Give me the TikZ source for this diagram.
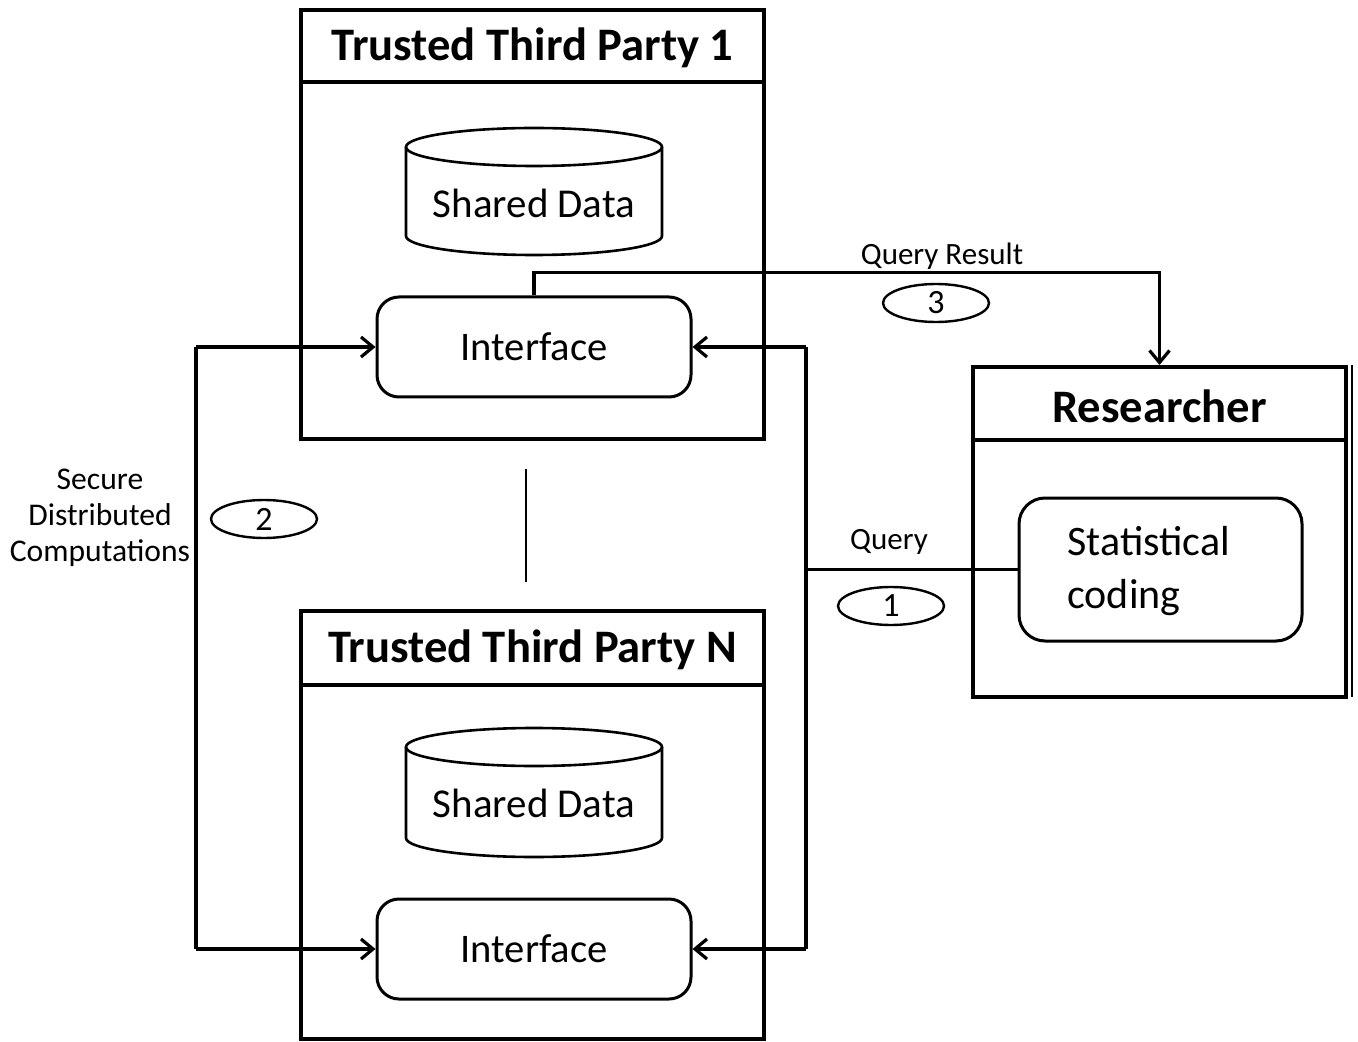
\documentclass[tikz,border=0pt]{standalone}
\usepackage{fontspec}
\setmainfont{Carlito}
\usetikzlibrary{arrows.meta,shapes.geometric}
\begin{document}
\begin{tikzpicture}[x=0.5pt,y=-0.5pt,
  bigbox/.style={draw,line width=2pt,minimum width=231.5pt,inner sep=0pt},
  titletext/.style={font=\fontsize{23.3}{27}\selectfont\bfseries,inner sep=0pt},
  iface/.style={draw,line width=1.5pt,rounded corners=11pt,minimum width=157pt,minimum height=50pt,font=\fontsize{20.3}{24}\selectfont,inner sep=0pt},
  cyltext/.style={font=\fontsize{20.5}{24}\selectfont,inner sep=0pt},
  cylline/.style={line width=1.3pt},
  conn/.style={line width=1.6pt},
  tip/.style={-{Straight Barb[length=6pt,width=10pt]}},
  lbl/.style={font=\fontsize{15.5}{18}\selectfont,inner sep=0pt,align=center},
  step num/.style={draw,ellipse,line width=1.2pt,minimum width=53pt,minimum height=19pt,inner sep=0pt,font=\fontsize{17}{20}\selectfont}
]
\useasboundingbox (0,0) rectangle (1358,1042);

% Trusted Third Party 1
\node[bigbox,minimum height=214.5pt] (ttp1) at (532.5,224.5) {};
\draw[line width=2pt] (301,82) -- (764,82);
\node[titletext] (t1) at (532.5,48) {Trusted Third Party 1};
\draw[cylline,fill=white] (406,147) -- (406,236) arc[start angle=180,end angle=360,x radius=64pt,y radius=9.5pt] -- (662,147);
\draw[cylline] (534,147) ellipse[x radius=64pt,y radius=9.5pt];
\node[cyltext] (db1) at (534,203) {Shared Data};
\node[iface] (if1) at (534,347) {Interface};

% Trusted Third Party N
\node[bigbox,minimum height=214pt] (ttpN) at (532.5,825) {};
\draw[line width=2pt] (301,685) -- (764,685);
\node[titletext] (tN) at (532.5,650) {Trusted Third Party N};
\draw[cylline,fill=white] (406,747) -- (406,838) arc[start angle=180,end angle=360,x radius=64pt,y radius=9.5pt] -- (662,747);
\draw[cylline] (534,747) ellipse[x radius=64pt,y radius=9.5pt];
\node[cyltext] (dbN) at (534,803) {Shared Data};
\node[iface] (ifN) at (534,949) {Interface};

% separator
\coordinate (sepa) at (526,469);
\coordinate (sepb) at (526,582);
\draw[line width=1pt] (sepa) -- (sepb);

% Researcher
\node[bigbox,minimum width=186.5pt,minimum height=165pt] (res) at (1159.5,532) {};
\draw[line width=2pt] (973,440) -- (1346,440);
\coordinate (rta) at (1352,365);
\coordinate (rtb) at (1352,697);
\draw[line width=1pt] (rta) -- (rtb);
\node[titletext] (rt) at (1159.5,406) {Researcher};
\node[draw,line width=1.5pt,rounded corners=13pt,minimum width=141.5pt,minimum height=71.5pt] (sc) at (1160.5,569.5) {};
\node[anchor=west,align=left,inner sep=0pt,font=\fontsize{21}{26.5}\selectfont] (sct) at (1067,571) {Statistical\\coding};

% left connectors
\coordinate (l1) at (196,347);
\coordinate (lN) at (196,949);
\draw[conn,tip] (l1) -- (if1.west);
\draw[conn] (l1) -- (lN);
\draw[conn,tip] (lN) -- (ifN.west);

% right connectors
\coordinate (r1) at (806,347);
\coordinate (rN) at (806,949);
\coordinate (rq) at (806,569.5);
\draw[conn,tip] (r1) -- (if1.east);
\draw[conn] (r1) -- (rN);
\draw[conn,tip] (rN) -- (ifN.east);
\draw[conn] (rq) -- (sc.west);

% query result
\draw[conn,tip] (if1.north) -- ++(0,-23) -| (res.north);

% labels
\node[lbl] (qr) at (942,256) {Query Result};
\node[step num] (n3) at (936,303) {3};
\node[lbl] (q) at (889,542) {Query};
\node[step num] (n1) at (891,606) {1};
\node[lbl,font=\fontsize{15.8}{18}\selectfont] (sdc) at (100,518) {Secure\\Distributed\\Computations};
\node[step num] (n2) at (264,519) {2};
\end{tikzpicture}
\end{document}
